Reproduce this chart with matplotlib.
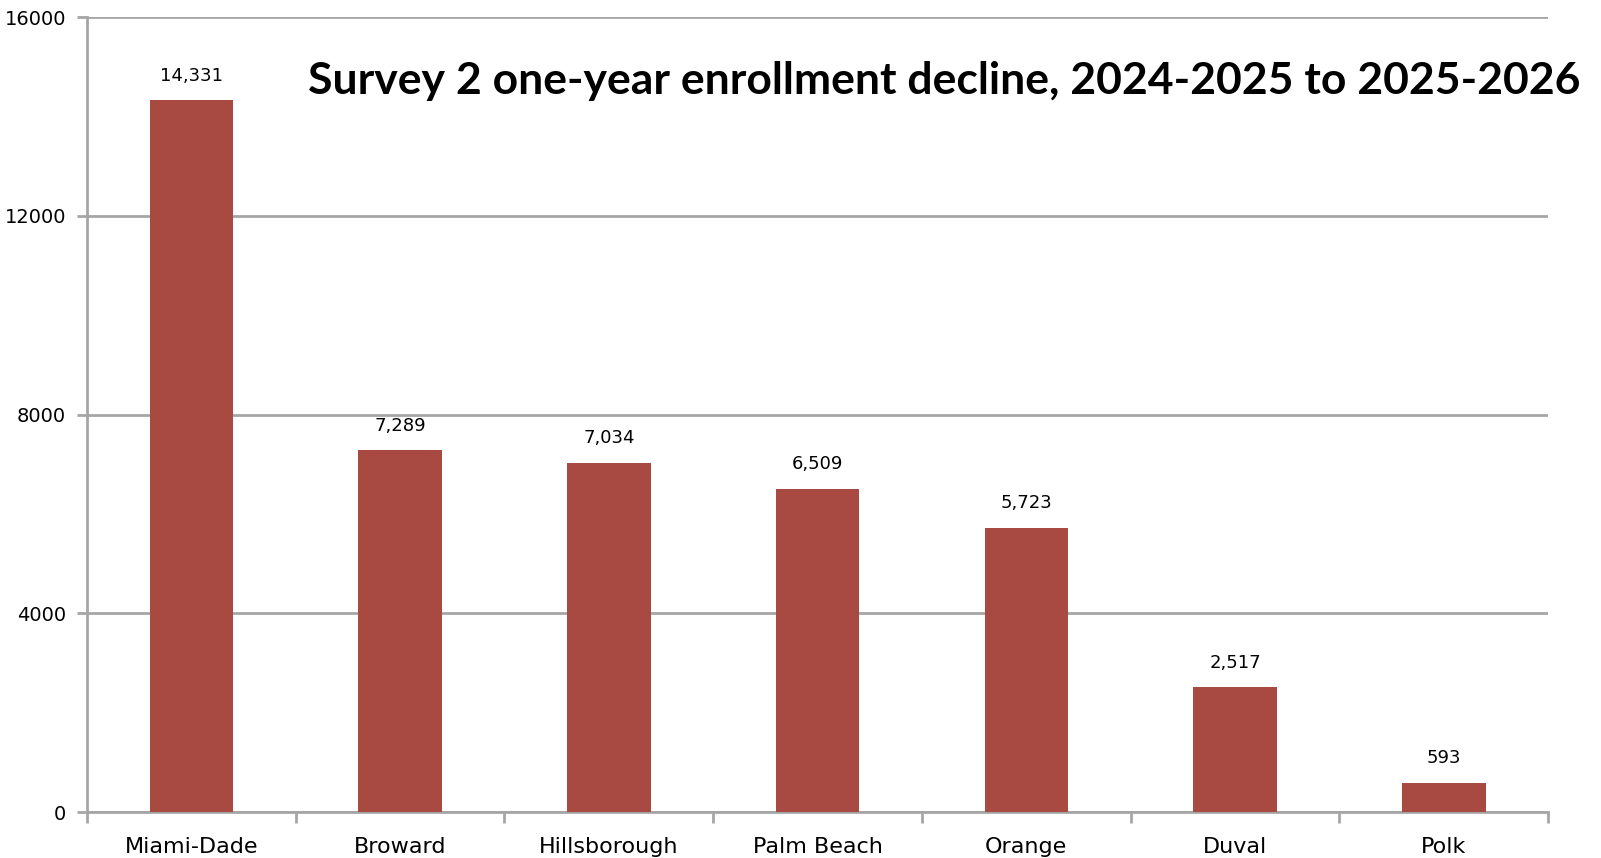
import matplotlib.pyplot as plt
import numpy as np

# Data
districts = ['Miami-Dade', 'Broward', 'Hillsborough', 'Palm Beach', 'Orange', 'Duval', 'Polk']
decline = [14331, 7289, 7034, 6509, 5723, 2517, 593]
yticks = [0, 4000, 8000, 12000, 16000]

grid_color = '#a6a6a6'
bar_color = '#a84a42'

fig = plt.figure(figsize=(16.01, 8.58), dpi=100)
ax = fig.add_axes([0.0543, 0.0536, 0.9127, 0.9264])

x = np.arange(len(districts))
bars = ax.bar(x, decline, width=0.4, color=bar_color, zorder=3)

ax.set_xlim(-0.5, len(districts) - 0.5)
ax.set_ylim(0, 16000)
ax.set_yticks(yticks)
ax.set_yticklabels([str(v) for v in yticks], fontsize=14)
ax.yaxis.grid(True, color=grid_color, linewidth=2, zorder=0)

# category labels centred, tick marks at category boundaries
ax.set_xticks(x)
ax.set_xticklabels(districts, fontsize=16)
ax.tick_params(axis='x', length=0, pad=18)
ax.set_xticks(np.arange(len(districts) + 1) - 0.5, minor=True)
ax.tick_params(axis='x', which='minor', length=8, width=2, color=grid_color)
ax.tick_params(axis='y', length=7, width=2, color=grid_color, pad=8)

for side in ['top', 'right']:
    ax.spines[side].set_visible(False)
for side in ['left', 'bottom']:
    ax.spines[side].set_color(grid_color)
    ax.spines[side].set_linewidth(2)

# value labels
for xi, v in zip(x, decline):
    ax.annotate(f'{v:,}', (xi, v), xytext=(0, 11), textcoords='offset points',
                ha='center', va='bottom', fontsize=13)

ax.text(0.151, 0.92, 'Survey 2 one-year enrollment decline, 2024-2025 to 2025-2026',
        transform=ax.transAxes, ha='left', va='center',
        fontsize=32, fontweight='bold', family='Lato')

fig.savefig('out.png', dpi=100)
